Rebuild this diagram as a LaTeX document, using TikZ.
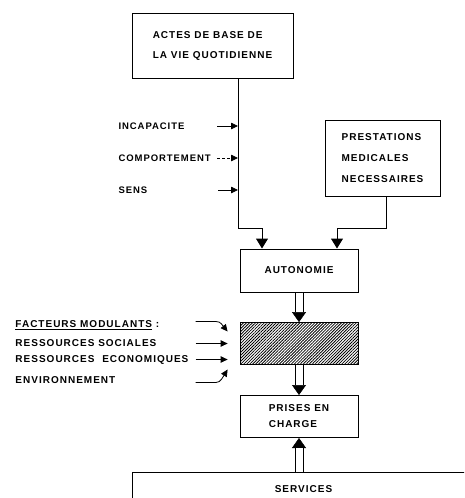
\documentclass[tikz,border=0pt]{standalone}
\usepackage{fontspec}
\setmainfont{Liberation Sans}[LetterSpace=10]
\usepackage{tikz}
\usetikzlibrary{positioning,arrows.meta,patterns.meta}

\begin{document}
\begin{tikzpicture}[x=1pt, y=-1pt, line width=1pt,
  every node/.style = {font=\bfseries\fontsize{10}{20}\selectfont},
  main/.style = {draw, rectangle, minimum width=118pt, minimum height=42pt, align=left},
  txt/.style = {anchor=west, inner sep=0pt},
  side/.style = {txt, font=\bfseries\fontsize{9.5}{20}\selectfont},
  dbl/.style = {line width=9pt, -{Triangle[length=10pt,width=14pt,line width=0.5pt]},
    postaction={draw=white, line width=7pt, -, shorten >=10pt}},
  small/.style = {line width=0.8pt, >={Triangle[length=7pt,width=6.5pt]}},
  >={Triangle[length=10pt,width=12pt]},
  node distance=73pt]
\useasboundingbox (0,0) rectangle (464,498);
\clip (0,0) rectangle (464,498);
\node[main, minimum width=161pt, minimum height=65pt] (1) at (212.5,45.5) {ACTES DE BASE DE\\LA VIE QUOTIDIENNE};
\node[main, minimum width=115pt, minimum height=76pt, font=\bfseries\fontsize{10}{21}\selectfont] (2) at (382.5,158) {PRESTATIONS\\MEDICALES\\NECESSAIRES};
\node[main, minimum height=43pt] (3) at (299,270.5) {AUTONOMIE};
\node[main, pattern={Lines[angle=45,distance=2.1pt,line width=0.8pt]}] (4) [below of=3] {};
\node[main, font=\bfseries\fontsize{10}{16}\selectfont] (5) [below of=4] {PRISES EN\\CHARGE};
\node[main, anchor=north west, minimum width=342pt, minimum height=34pt] (6) at (132,472) {SERVICES};
\node[side] (7) at (118,126) {INCAPACITE};
\node[side] (8) at (118,158) {COMPORTEMENT};
\node[side] (9) at (118,190) {SENS};
\node[txt] (10) at (15,325) {\underline{FACTEURS MODULANTS}\ :};
\node[txt] (11) at (15,343) {RESSOURCES SOCIALES};
\node[txt] (12) at (15,360) {RESSOURCES\hspace{4pt} ECONOMIQUES};
\node[txt] (13) at (15,380) {ENVIRONNEMENT};
\coordinate (a) at (238,228);
\coordinate (b) at (386,228);
\coordinate (c1) at (238,126);
\coordinate (c2) at (238,158);
\coordinate (c3) at (238,190);
\coordinate (q1) at ([shift={(-12,-12)}]4.west);
\coordinate (q2) at ([xshift=-12pt]4.west);
\coordinate (q3) at ([shift={(-12,16)}]4.west);
\coordinate (q4) at ([shift={(-12,26)}]4.west);
\draw[->] (1.south -| a) -- (a) -| ([xshift=-37pt]3.north);
\draw[->] (2.south -| b) -- (b) -| ([xshift=38pt]3.north);
\draw[->, small] ([xshift=-21pt]c1) -- (c1);
\draw[->, small, dash pattern=on 3pt off 2pt] ([xshift=-21pt]c2) -- (c2);
\draw[->, small] ([xshift=-20pt]c3) -- (c3);
\draw[->, small] ([shift={(-32,-10)}]q1) -- ++(16,0) .. controls +(8,0) .. (q1);
\draw[->, small] ([xshift=-32pt]q2) -- (q2);
\draw[->, small] ([xshift=-32pt]q3) -- (q3);
\draw[->, small] ([shift={(-32,13)}]q4) -- ++(16,0) .. controls +(8,0) .. (q4);
\draw[dbl] (3) -- (4);
\draw[dbl] (4) -- (5);
\draw[dbl] (6.north -| 5) -- (5);
\end{tikzpicture}
\end{document}
